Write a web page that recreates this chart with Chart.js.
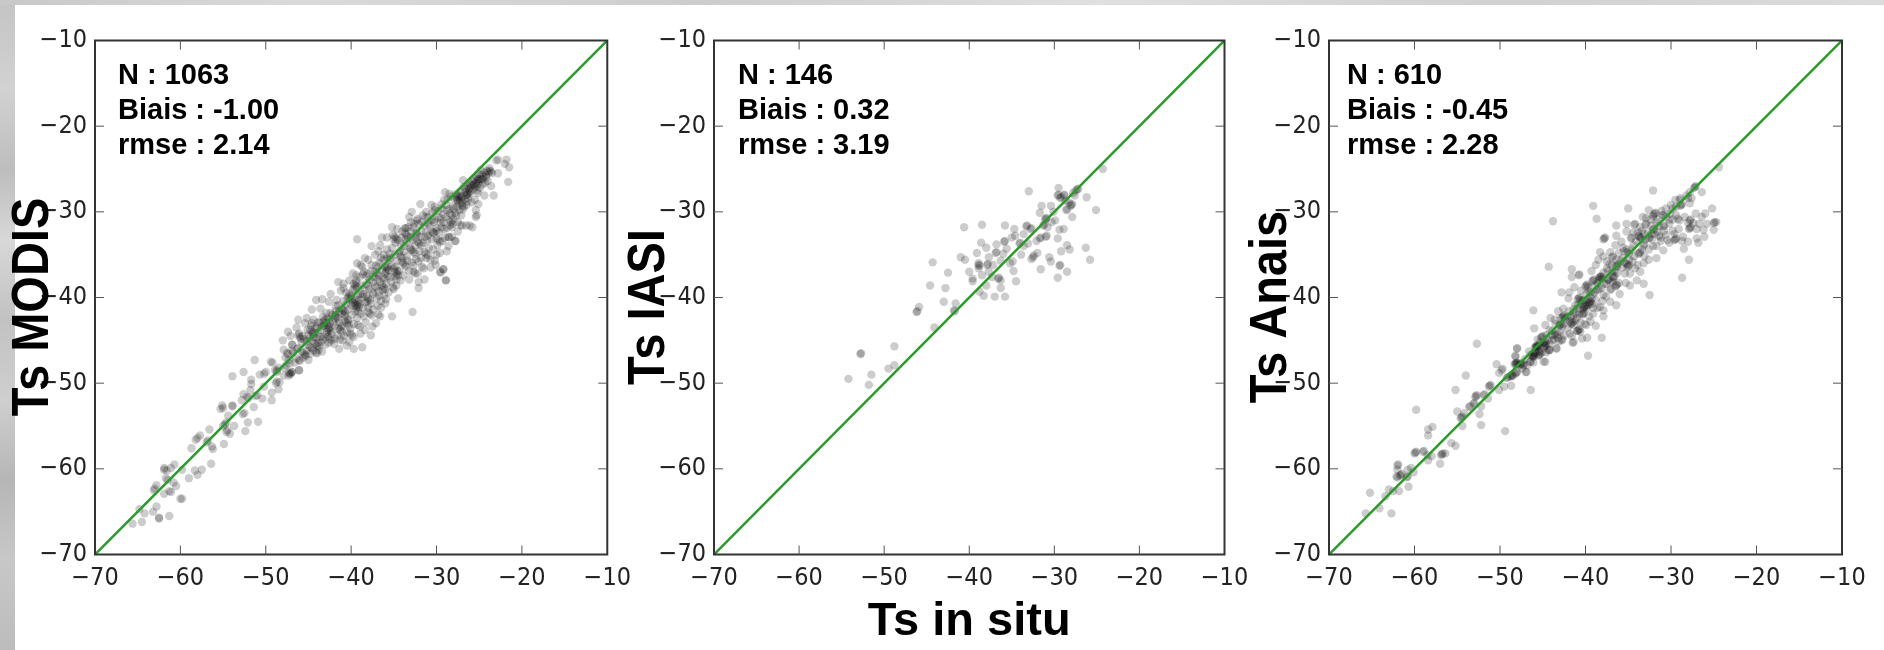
<!DOCTYPE html>
<html>
<head>
<meta charset="utf-8">
<script src="https://cdn.jsdelivr.net/npm/chart.js@4"></script>
<style>
html, body { margin: 0; padding: 0; width: 1884px; height: 650px; overflow: hidden; background: #fff; }
#left { position: absolute; left: 0; top: 0; width: 15px; height: 650px;
  background: linear-gradient(180deg, #c4c4c4 0, #d2d2d2 90px, #bdbdbd 170px, #d8d8d8 240px, #c2c2c2 320px, #cfcfcf 400px, #b6b6b6 480px, #c8c8c8 560px, #bcbcbc 650px); }
#top { position: absolute; left: 0; top: 0; width: 1884px; height: 5px;
  background: linear-gradient(90deg, #c8c8c8 0, #dadada 300px, #cdcdcd 700px, #e0e0e0 1100px, #d0d0d0 1500px, #dcdcdc 1884px); }
canvas { position: absolute; top: 0; filter: blur(0.5px); }
</style>
</head>
<body>
<div id="left"></div>
<div id="top"></div>
<canvas id="c1" width="640" height="650" style="left:0px"></canvas>
<canvas id="c2" width="640" height="650" style="left:620px"></canvas>
<canvas id="c3" width="644" height="650" style="left:1240px"></canvas>
<script>
var tickValues = [-70, -60, -50, -40, -30, -20, -10];
var oneToOne = [[-70, -70], [-10, -10]];

var modisStats = ['N : 1063', 'Biais : -1.00', 'rmse : 2.14'];
var iasiStats = ['N : 146', 'Biais : 0.32', 'rmse : 3.19'];
var anaisStats = ['N : 610', 'Biais : -0.45', 'rmse : 2.28'];

var modisPoints = [
[-65.6,-66.4],[-64.5,-66.2],[-62.5,-65.8],[-62.5,-65.7],[-61.3,-65.5],[-63.2,-65.0],[-64.2,-65.2],[-64.8,-64.7],[-62.8,-64.4],[-60.0,-63.5],[-59.8,-63.5],
[-61.9,-62.9],[-61.1,-62.7],[-61.3,-62.6],[-63.1,-62.5],[-63.0,-62.3],[-62.8,-61.9],[-60.5,-62.0],[-60.8,-61.6],[-61.5,-61.3],[-59.0,-61.1],[-58.0,-60.7],
[-58.3,-60.2],[-57.5,-60.1],[-56.4,-59.4],[-61.9,-60.1],[-61.6,-60.2],[-61.9,-59.9],[-61.1,-59.9],[-60.7,-59.5],[-59.8,-60.1],[-61.7,-61.1],[-58.7,-57.6],
[-58.0,-56.4],[-58.2,-56.6],[-57.7,-56.1],[-56.8,-56.7],[-56.9,-56.9],[-56.3,-57.4],[-56.2,-57.7],[-56.6,-55.4],[-54.9,-57.1],[-54.8,-54.8],[-55.0,-55.0],
[-54.6,-54.6],[-54.5,-55.5],[-54.6,-55.7],[-53.7,-55.0],[-54.2,-55.9],[-54.4,-53.8],[-55.1,-52.6],[-55.0,-52.9],[-55.3,-53.0],[-53.9,-52.6],[-53.9,-52.7],
[-52.5,-53.5],[-52.7,-53.6],[-51.4,-52.8],[-52.1,-54.6],[-50.9,-54.5],[-52.4,-55.6],[-50.4,-51.8],[-49.3,-52.0],[-49.3,-51.1],[-53.9,-49.2],[-52.6,-48.7],
[-51.3,-47.3],[-51.7,-49.6],[-51.7,-50.1],[-51.8,-50.8],[-52.6,-51.3],[-52.8,-52.0],[-52.2,-51.6],[-52.0,-51.7],[-51.0,-51.4],[-51.2,-51.5],[-50.7,-49.0],
[-50.0,-48.7],[-50.2,-48.9],[-50.2,-50.4],[-49.4,-47.5],[-49.2,-47.6],[-48.7,-49.8],[-48.4,-49.9],[-48.8,-50.0],[-48.7,-48.7],[-48.9,-48.5],[-48.5,-50.7],
[-47.9,-49.1],[-47.1,-48.9],[-47.3,-49.1],[-46.9,-48.7],[-46.1,-48.5],[-46.9,-45.5],[-47.9,-46.1],[-47.5,-46.5],[-47.4,-46.6],[-47.3,-47.3],[-46.1,-47.3],
[-46.0,-47.4],[-45.0,-47.3],[-45.4,-46.7],[-45.3,-46.8],[-44.0,-46.5],[-44.1,-46.4],[-47.1,-48.9],[-47.0,-48.7],[-47.3,-48.8],[-48.7,-48.5],[-48.5,-48.2],
[-46.0,-44.6],[-45.9,-44.8],[-46.2,-44.4],[-45.7,-44.5],[-44.6,-44.0],[-44.5,-44.2],[-44.8,-43.8],[-44.3,-44.1],[-42.6,-43.8],[-42.7,-43.6],[-42.4,-43.9],
[-42.8,-44.0],[-42.5,-43.5],[-41.3,-43.8],[-41.5,-43.6],[-41.1,-44.0],[-41.2,-43.5],[-44.0,-45.6],[-44.2,-45.4],[-43.8,-45.7],[-43.9,-45.3],[-44.8,-45.8],
[-44.6,-45.9],[-45.0,-45.6],[-42.5,-44.8],[-42.3,-45.0],[-42.7,-44.6],[-40.5,-43.0],[-40.7,-42.8],[-40.3,-43.2],[-40.4,-42.7],[-39.9,-44.4],[-40.1,-44.2],
[-39.7,-44.6],[-39.2,-43.2],[-39.0,-43.4],[-39.3,-40.9],[-39.5,-40.7],[-39.1,-41.1],[-39.4,-41.2],[-39.2,-40.6],[-39.6,-41.0],[-39.0,-40.8],[-40.1,-40.1],
[-40.3,-39.9],[-39.9,-40.3],[-40.0,-39.8],[-39.5,-38.6],[-39.7,-38.4],[-39.3,-38.8],[-39.6,-38.9],[-39.4,-38.3],[-38.0,-40.1],[-38.2,-39.9],[-37.8,-40.3],
[-38.1,-40.4],[-37.8,-41.9],[-38.0,-41.7],[-37.6,-42.1],[-36.6,-42.2],[-36.8,-42.0],[-36.2,-38.8],[-36.4,-38.6],[-36.0,-39.0],[-36.3,-39.1],[-34.7,-37.2],
[-34.9,-37.0],[-34.5,-37.4],[-34.8,-37.5],[-34.6,-36.9],[-35.8,-36.6],[-36.0,-36.4],[-35.6,-36.8],[-35.9,-36.9],[-37.0,-37.2],[-37.2,-37.0],[-36.8,-37.4],
[-34.9,-32.9],[-35.1,-32.7],[-34.7,-33.1],[-35.0,-33.2],[-33.5,-32.7],[-33.7,-32.5],[-33.3,-32.9],[-32.0,-33.7],[-32.2,-33.5],[-31.8,-33.9],[-31.2,-34.9],
[-31.4,-34.7],[-31.0,-35.1],[-32.7,-34.7],[-32.9,-34.5],[-32.5,-34.9],[-29.8,-33.3],[-30.0,-33.1],[-29.6,-33.5],[-28.3,-31.2],[-28.5,-31.0],[-28.1,-31.4],
[-30.4,-32.5],[-30.6,-32.3],[-33.9,-36.0],[-34.1,-35.8],[-33.7,-36.2],[-32.7,-37.0],[-32.5,-37.2],[-34.5,-40.1],[-36.0,-40.7],[-41.7,-40.3],[-42.6,-40.5],
[-43.6,-41.3],[-44.4,-42.6],[-45.4,-43.0],[-40.9,-41.5],[-41.1,-41.3],[-40.7,-41.7],[-41.7,-42.3],[-41.9,-42.1],[-41.5,-42.5],[-43.0,-43.0],[-43.2,-42.8],
[-42.8,-43.2],[-45.6,-46.5],[-45.8,-46.3],[-43.4,-46.3],[-40.5,-45.6],[-39.3,-33.2],[-44.1,-40.3],[-37.7,-44.4],[-38.7,-45.8],[-39.7,-46.0],[-41.4,-46.0],
[-35.2,-42.2],[-32.8,-41.7],[-47.1,-44.5],[-46.4,-43.5],[-46.9,-45.5],[-46.1,-48.5],[-28.9,-38.0],[-29.2,-36.7],[-29.6,-37.0],[-32.1,-38.9],[-31.4,-37.9],
[-32.1,-38.2],[-30.2,-35.7],[-27.8,-33.4],[-27.0,-31.6],[-26.1,-31.6],[-36.4,-33.0],[-36.6,-33.9],[-38.0,-35.6],[-37.2,-35.0],[-39.3,-36.0],[-40.9,-38.4],
[-40.9,-38.9],[-38.5,-37.0],[-38.7,-36.4],[-38.2,-37.5],[-37.6,-36.2],[-37.4,-38.2],[-37.0,-38.8],[-36.7,-39.8],[-36.5,-35.4],[-36.2,-35.0],[-35.8,-34.4],
[-35.5,-35.6],[-35.3,-38.2],[-35.0,-39.0],[-34.7,-38.6],[-34.4,-34.8],[-34.2,-33.8],[-33.8,-34.6],[-33.5,-35.2],[-33.2,-37.9],[-33.0,-33.0],[-32.7,-31.8],
[-32.4,-32.4],[-32.1,-35.8],[-31.7,-36.4],[-31.4,-31.6],[-31.0,-32.8],[-30.7,-36.5],[-30.3,-31.2],[-30.0,-35.0],[-29.5,-30.8],[-29.1,-32.0],[-28.8,-34.6],
[-28.5,-33.0],[-38.9,-39.6],[-38.6,-41.2],[-38.3,-42.9],[-37.5,-43.4],[-36.9,-41.0],[-36.5,-41.2],[-35.9,-40.2],[-35.7,-37.5],[-39.8,-37.2],[-40.2,-38.0],
[-40.6,-39.4],[-41.2,-39.2],[-41.8,-41.0],[-42.2,-42.0],[-42.9,-41.8],[-43.3,-42.2],[-43.9,-42.9],[-44.6,-43.0],[-45.0,-44.4],[-45.2,-45.1],[-46.3,-46.0],
[-47.6,-47.9],[-47.8,-48.2],[-43.2,-44.6],[-43.6,-43.8],[-41.9,-44.8],[-41.0,-45.0],[-40.2,-45.2],[-38.9,-44.2],[-38.4,-43.8],[-37.1,-43.0],[-22.8,-23.9],
[-23.0,-24.0],[-21.8,-23.9],[-22.0,-24.4],[-21.5,-24.8],[-21.6,-26.5],[-23.3,-28.1],[-24.4,-28.1],[-23.6,-25.3],[-23.5,-25.5],[-23.8,-25.2],[-22.8,-25.5],
[-23.6,-27.0],[-24.8,-25.1],[-25.3,-26.9],[-25.1,-26.7],[-25.5,-27.1],[-25.2,-26.4],[-25.6,-26.8],[-25.0,-26.2],[-26.3,-27.8],[-26.1,-27.6],[-26.5,-28.0],
[-26.2,-27.3],[-26.6,-27.7],[-26.0,-27.2],[-27.3,-28.6],[-27.1,-28.4],[-27.5,-28.8],[-27.2,-28.1],[-27.6,-28.3],[-27.0,-28.9],[-26.9,-26.3],[-29.0,-27.7],
[-28.5,-27.9],[-31.9,-29.1],[-32.9,-30.0],[-33.2,-30.6],[-32.3,-31.0],[-25.8,-31.8],[-26.5,-31.6],[-27.2,-31.6],[-25.3,-30.4],[-25.4,-30.6],[-25.1,-29.1],
[-25.4,-29.8],[-27.8,-33.4],[-27.5,-32.3],[-28.6,-32.9],[-29.2,-36.7],[-29.5,-37.1],[-28.9,-38.0],[-31.2,-30.0],[-30.6,-29.2],[-30.2,-29.8],[-29.8,-30.6],
[-29.4,-29.6],[-28.9,-29.2],[-28.4,-30.2],[-28.0,-29.6],[-27.7,-30.4],[-27.3,-29.8],[-26.8,-29.4],[-26.4,-28.8],[-28.2,-31.8],[-29.2,-31.2],[-30.2,-30.9],
[-31.0,-31.4],[-31.6,-30.4],[-32.2,-30.8],[-33.0,-31.2],[-33.6,-31.9],[-34.0,-32.3],[-35.2,-31.8],[-34.6,-32.0],[-35.8,-33.0],[-36.8,-34.6],[-37.6,-34.0],
[-38.4,-35.4],[-38.9,-36.2],[-39.4,-37.4],[-41.5,-38.2],[-42.4,-39.6],[-43.4,-40.2],[-44.6,-41.4],[-45.2,-42.4],[-46.2,-42.6],[-47.4,-44.0],[-48.0,-45.0]
];

// denser part of the MODIS cloud, where single dots cannot be told apart
var modisCore = [
[-46.4,-47.1],[-46.2,-45.9],[-45.8,-45.2],[-45.6,-47.0],[-45.5,-44.9],[-45.2,-46.2],[-45.1,-43.8],[-44.9,-44.8],[-44.8,-46.6],[-44.7,-43.3],[-44.5,-45.0],[-44.4,-46.2],
[-44.2,-43.6],[-44.1,-44.7],[-43.9,-44.2],[-43.8,-46.1],[-43.7,-42.9],[-43.5,-45.2],[-43.4,-43.4],[-43.3,-44.9],[-43.1,-42.6],[-43.0,-45.5],[-42.9,-44.3],[-42.8,-42.4],
[-42.6,-45.3],[-42.5,-43.0],[-42.4,-41.8],[-42.3,-44.2],[-42.1,-42.9],[-42.0,-45.4],[-41.9,-43.3],[-41.8,-41.6],[-41.6,-44.4],[-41.5,-40.9],[-41.4,-42.9],[-41.3,-44.9],
[-41.1,-41.9],[-41.0,-43.3],[-40.9,-40.4],[-40.8,-44.5],[-40.7,-42.2],[-40.6,-40.8],[-40.5,-44.1],[-40.4,-41.4],[-40.3,-42.6],[-40.2,-39.6],[-40.1,-43.6],[-40.0,-40.9],
[-39.9,-42.0],[-39.8,-39.1],[-39.7,-43.1],[-39.6,-40.2],[-39.5,-41.6],[-39.4,-38.0],[-39.3,-42.4],[-39.2,-39.7],[-39.1,-40.3],[-39.0,-37.6],[-38.9,-41.9],[-38.8,-38.6],
[-38.7,-40.0],[-38.6,-37.3],[-38.5,-42.2],[-38.4,-39.2],[-38.3,-40.6],[-38.2,-38.4],[-38.1,-37.2],[-38.0,-41.2],[-37.9,-39.0],[-37.8,-37.9],[-37.7,-40.7],[-37.6,-36.9],
[-37.5,-39.4],[-37.4,-41.4],[-37.3,-37.6],[-37.2,-38.7],[-37.1,-36.3],[-37.0,-40.1],[-36.9,-37.9],[-36.8,-39.3],[-36.7,-35.9],[-36.6,-38.2],[-36.5,-40.4],[-36.4,-36.8],
[-36.3,-37.7],[-36.2,-35.6],[-36.1,-39.7],[-36.0,-37.2],[-35.9,-38.4],[-35.8,-35.4],[-35.7,-36.4],[-35.6,-39.4],[-35.5,-34.9],[-35.4,-37.6],[-35.3,-36.3],[-35.2,-34.2],
[-35.1,-38.8],[-35.0,-36.6],[-34.9,-35.0],[-34.8,-33.6],[-34.7,-37.9],[-34.6,-35.7],[-34.5,-33.3],[-34.4,-36.9],[-34.3,-34.6],[-34.2,-38.0],[-34.1,-33.0],[-34.0,-35.4],
[-33.9,-37.4],[-33.8,-34.0],[-33.7,-31.9],[-33.6,-36.4],[-33.5,-33.6],[-33.4,-35.7],[-33.3,-31.8],[-33.2,-36.9],[-33.1,-34.2],[-33.0,-32.3],[-32.9,-35.9],[-32.8,-33.3],
[-32.7,-36.3],[-32.6,-31.4],[-32.5,-33.9],[-32.4,-35.5],[-32.3,-32.6],[-32.2,-37.2],[-32.1,-31.4],[-32.0,-34.6],[-31.9,-32.9],[-31.8,-35.4],[-31.7,-31.2],[-31.6,-33.6],
[-31.5,-36.6],[-31.4,-32.9],[-31.3,-30.6],[-31.2,-35.4],[-31.1,-33.3],[-31.0,-30.6],[-30.9,-34.2],[-30.8,-31.6],[-30.7,-35.6],[-30.6,-33.2],[-30.5,-30.1],[-30.4,-34.4],
[-30.3,-32.4],[-30.2,-29.4],[-30.1,-36.2],[-30.0,-31.9],[-29.9,-33.9],[-29.8,-29.9],[-29.7,-32.4],[-29.6,-34.8],[-29.5,-31.3],[-29.4,-29.1],[-29.3,-33.4],[-29.2,-30.3],
[-29.1,-28.6],[-29.0,-33.0],[-28.9,-30.6],[-28.8,-31.9],[-28.7,-28.5],[-28.6,-34.0],[-28.5,-29.7],[-28.4,-31.6],[-28.3,-28.2],[-28.2,-32.9],[-28.1,-29.3],[-28.0,-30.9],
[-27.9,-28.4],[-27.8,-30.1],[-27.7,-27.9],[-27.6,-29.4],[-27.5,-31.2],[-27.4,-28.2],[-27.3,-29.0],[-27.2,-27.6],[-27.1,-30.4],[-27.0,-28.2],[-26.9,-29.7],[-26.8,-27.1],
[-26.7,-28.5],[-26.6,-27.4],[-26.5,-29.2],[-26.4,-27.0],[-26.3,-28.4],[-26.2,-26.6],[-26.1,-27.9],[-26.0,-26.9],[-25.9,-28.9],[-25.8,-26.4],[-25.7,-27.4],[-25.6,-26.1],
[-25.5,-28.6],[-25.4,-26.6],[-25.3,-25.9],[-25.2,-27.5],[-25.1,-26.2],[-25.0,-25.6],[-24.9,-27.2],[-24.8,-26.2],[-24.7,-25.7],[-24.6,-26.8],[-24.5,-25.9],[-24.4,-25.4],
[-24.3,-26.6],[-24.2,-25.7],[-24.1,-25.2],[-24.0,-26.4],[-23.9,-25.4],[-23.8,-24.9],[-46.8,-46.4],[-46.6,-47.6],[-47.2,-47.7],[-47.7,-47.0],[-46.1,-44.2],[-47.0,-46.2],
[-44.4,-44.6],[-44.0,-43.4],[-43.6,-44.6],[-43.2,-43.3],[-42.6,-42.6],[-41.9,-42.4],[-41.4,-41.6],[-40.8,-42.0],[-40.4,-40.1],[-39.8,-40.6],[-39.2,-41.6],[-38.6,-39.6],
[-38.0,-38.6],[-37.4,-39.6],[-36.8,-36.4],[-36.1,-37.8],[-35.4,-35.4],[-34.8,-36.4],[-34.2,-35.2],[-33.6,-33.2],[-33.0,-34.4],[-32.4,-33.0],[-31.8,-32.2],[-31.2,-32.4],
[-30.6,-31.0],[-30.0,-32.2],[-29.4,-31.8],[-28.8,-29.8],[-28.2,-30.4],[-27.6,-28.6],[-27.0,-29.3],[-26.4,-28.0],[-25.8,-26.9],[-25.2,-27.8],[-24.6,-26.2],[-24.2,-26.0]
];

var iasiPoints = [
[-54.2,-49.5],[-52.8,-46.6],[-52.7,-46.5],[-51.5,-49],[-51.8,-50.2],[-48.8,-45.7],[-48.8,-47.9],[-49.5,-48.3],[-44.1,-43.5],[-46.2,-41.7],[-46.1,-41.6],
[-45.9,-41.1],[-44.6,-38.6],[-44.3,-35.9],[-42.8,-38.9],[-43,-40.5],[-41.6,-40.7],[-41.7,-41.6],[-41.8,-41.5],[-42.5,-37.1],[-40.6,-31.8],[-38.5,-31.5],
[-35.8,-31.6],[-33,-27.6],[-41,-35.3],[-40.5,-35.6],[-39.1,-34.8],[-38.6,-33.6],[-38,-34.2],[-37.7,-35.3],[-38.9,-36.2],[-38.9,-36],[-38.8,-36.3],
[-37.9,-36.2],[-37.8,-36.1],[-37.2,-36.2],[-38.9,-36.6],[-37.7,-37],[-39.6,-37.8],[-39.6,-38.1],[-38.5,-37.4],[-38,-38.6],[-38.8,-39.3],[-38.3,-39.8],
[-37,-39.9],[-35.8,-39.9],[-36.3,-38.9],[-36.6,-37.8],[-36.5,-37.7],[-36.3,-38],[-36.9,-34.8],[-36.8,-34.7],[-36,-34.9],[-36.8,-33.8],[-35.9,-33.5],
[-35.8,-33.4],[-35.6,-34.3],[-36.3,-35.7],[-34.9,-35.8],[-34.8,-36.9],[-34.5,-38.1],[-34.7,-32],[-34.6,-32.8],[-34.1,-33.7],[-34,-33.6],[-33.6,-34],
[-33.1,-33.7],[-33.6,-32.6],[-33.3,-31.7],[-33.2,-31.6],[-32.8,-32],[-32.7,-31.9],[-32.1,-33.4],[-31.7,-33.1],[-31.6,-33],[-31,-32.9],[-30.9,-32.8],
[-32.4,-35.1],[-32.5,-35.3],[-32.7,-35.5],[-32,-34.8],[-31.6,-36.7],[-30.6,-35.3],[-30.4,-35.8],[-29.6,-33.1],[-29.2,-34.6],[-28.5,-33.9],[-28.2,-34.4],
[-29.4,-36.3],[-29.3,-36.2],[-28.5,-37],[-29.6,-37.7],[-26.3,-34.2],[-25.8,-35.6],[-25.1,-29.8],[-26.2,-28.3],[-24.3,-25],[-29.5,-27.2],[-29.6,-28.1],
[-29.5,-28],[-28.9,-28.1],[-28.8,-28],[-29.3,-28.4],[-29.2,-28.3],[-27.3,-27.4],[-27.2,-27.3],[-27.5,-27.5],[-27.6,-28.1],[-28,-29.2],[-27.9,-29.1],
[-28.1,-29.3],[-28.6,-29.8],[-28.5,-29.7],[-27.9,-30.6],[-28.9,-32],[-29.4,-32.1],[-29.9,-31],[-30.3,-31.2],[-31,-30.8],[-30.9,-30.7],[-31.1,-30.9],
[-31.3,-31.6],[-31.2,-31.5],[-31.7,-30.1],[-31.5,-29.3],[-30.4,-29.3],[-30.1,-30],[-30.8,-31.8],[-28.7,-28.7],[-28.3,-28.9],[-27.8,-27.8],[-37.3,-37.6],
[-40,-37],[-35.2,-36],[-33.9,-35],[-35,-33]
];

var anaisPoints = [
[-65.7,-65.2],[-64.1,-64.6],[-62.7,-65.2],[-65.2,-62.8],[-63.4,-63.2],[-63,-62.4],[-62.5,-62.6],[-61.8,-62.6],[-60.7,-62.1],[-62.1,-60.9],[-62,-61],
[-62,-59.6],[-61.9,-59.5],[-62,-60.1],[-61.6,-60.7],[-61.5,-60.6],[-61.7,-60.8],[-60.9,-61],[-60.8,-60.9],[-60.8,-60.1],[-60.4,-59.9],[-60.1,-60.4],
[-59.9,-58.1],[-59.8,-58],[-60,-58.2],[-59,-58],[-58.9,-57.9],[-58.5,-58.4],[-58,-58.5],[-58.4,-59],[-57,-59.4],[-56.8,-58.3],[-56.7,-58.2],[-56.9,-58.4],
[-56.4,-58.2],[-55.7,-57],[-55.2,-57.3],[-58.4,-55.4],[-57.9,-55.1],[-58.4,-56.1],[-59.8,-53.1],[-55.2,-50.8],[-54,-49.1],[-55,-53.3],[-54.5,-54],[-54.4,-53.9],
[-54.6,-54.1],[-54.2,-53.5],[-54.4,-55],[-53.6,-52.8],[-53.5,-52.7],[-53.1,-52.4],[-53,-52.3],[-52.8,-51.5],[-52.7,-51.4],[-52.9,-51.6],[-52.2,-52.7],
[-52.4,-53.6],[-52.2,-54.9],[-51.4,-51.8],[-51.9,-51.4],[-51.8,-51.3],[-51.2,-50.3],[-51.1,-50.2],[-51.3,-50.4],[-50.1,-50.8],[-49.5,-50.4],[-48.7,-50.3],
[-49.4,-55.6],[-46.4,-50.8],[-50.4,-47.8],[-50.1,-48.8],[-49.7,-48.3],[-52.7,-45.4],[-49.2,-49.4],[-49.1,-49.3],[-48.6,-49.2],[-48.5,-49.1],[-48.1,-48.8],
[-48,-48.7],[-48.2,-48.9],[-47,-48.7],[-48.2,-47.7],[-48.1,-47.6],[-48.3,-47.8],[-47.6,-47.8],[-47.5,-47.7],[-47.7,-47.9],[-48.2,-46.8],[-48,-46],[-46.4,-47.5],
[-46.1,-46.9],[-46,-46.8],[-46.2,-47],[-45.4,-46.7],[-45.3,-46.6],[-45.5,-46.8],[-44.7,-47.5],[-44.3,-46.2],[-44.2,-46.1],[-45.7,-45.8],[-45.6,-45.7],[-45.8,-45.9],
[-45.5,-45.6],[-44.8,-45.3],[-44.7,-45.2],[-44.9,-45.4],[-43.4,-46],
[-32.1,-27.5],[-39.1,-29.3],[-43.8,-31.1],[-38.7,-30.8],[-35,-29.6],[-26.4,-27.7],[-44.3,-36.4],[-46.1,-41.5],[-41.6,-36.7],[-41.6,-37.6],[-40.8,-37.4],
[-40.7,-37.3],[-39.3,-36.9],[-42.8,-39.4],[-41.9,-39.4],[-38.3,-34.7],[-37.8,-33.1],[-37.7,-33],[-37.9,-33.2],[-36.4,-31.6],[-36.4,-32.8],[-36.5,-33.9],
[-37.1,-34.7],[-35.2,-31.4],[-34.3,-31.5],[-34.2,-31.4],[-35.2,-32.3],[-34.7,-33.1],[-34.6,-33],[-35.8,-33.5],[-33.3,-30.6],[-32.6,-29.8],[-31.9,-30.2],
[-31.8,-30.1],[-32,-30.3],[-31.1,-29.9],[-33,-31.5],[-32.9,-31.4],[-31.7,-31.2],[-32.1,-32.1],[-32,-32],[-33.6,-33.1],[-33.5,-33],[-32.6,-33.1],[-32.5,-33],
[-32.1,-34],[-33.2,-33.9],[-33.1,-33.8],[-33.7,-34.8],[-33.6,-34.7],[-33.8,-34.9],[-30.9,-34.5],[-31.7,-35.4],[-32.6,-35.6],[-33.2,-36],[-33.6,-37],[-33.2,-38.4],
[-34,-38],[-34.8,-38.6],[-32.5,-39.7],[-28.7,-37.7],[-27.9,-35.6],[-28.5,-34.3],[-29.5,-33.2],[-29.4,-33.1],[-29.6,-33.3],[-30.6,-32.7],[-30.9,-31.7],[-30.8,-31.6],
[-30.1,-30.2],[-29.5,-28.6],[-28.9,-28.4],[-28.8,-29.2],[-28.7,-29.1],[-28.9,-29.3],[-27.8,-29],[-27.2,-27.1],[-27.1,-27],[-27.3,-27.2],[-27.8,-27.7],[-28,-28.4],
[-29.4,-30.4],[-29.1,-32],[-28.6,-32.9],[-27.8,-31.9],[-27.7,-31.8],[-27.9,-32],[-27.8,-31],[-27.7,-30.9],[-28,-33.5],[-27,-33.1],[-26.8,-33.6],[-26.2,-32.1],
[-26.1,-32.9],[-26.4,-30.6],[-26,-30.2],[-25.2,-29.6],[-25.8,-31.4],[-25,-31.3],[-24.9,-31.2],[-24.7,-31.2],[-25,-32.1],[-27,-32],[-24.4,-24.8],
[-35,-36.3],[-34.9,-36.2],[-35.1,-36.4],[-35.2,-36.1],[-36.4,-36.4],[-36.3,-36.3],[-36.9,-35.3],[-36.8,-35.2],[-37.5,-35.8],[-37.5,-36.6],[-38.3,-37.6],[-38.2,-37.5],
[-38.4,-37.7],[-38.1,-37.8],[-36.7,-37.6],[-36.6,-37.5],[-36.8,-37.7],[-36.4,-38.6],[-36.3,-38.5],[-36.5,-38.7],[-37.1,-39.1],[-37,-39],[-37.9,-39.7],[-36.4,-40.9],
[-37.1,-40.5],[-37.9,-41.5],[-37.9,-42.2],[-38.8,-43.3],[-38.1,-44.7],[-39.7,-46.8],[-39.8,-44.7],[-39.5,-40.5],[-39.4,-40.4],[-39.6,-40.6],[-39.3,-40.7],[-39.7,-40.3],
[-39.5,-40.8],[-40.1,-41.1],[-40,-41],[-40.2,-41.2],[-39.9,-41.3],[-40.3,-40.9],[-40.8,-40.1],[-40.7,-40],[-40.9,-40.2],[-40.6,-40.3],[-39.9,-38.6],[-39.8,-38.5],
[-40,-38.7],[-39.7,-38.8],[-39.1,-38],[-39,-37.9],[-39.2,-38.1],[-40.3,-41.9],[-40.2,-41.8],[-40.4,-42],[-39.1,-41.9],[-41.6,-43],[-41.5,-42.9],[-41.7,-43.1],
[-41.4,-43.2],[-41.8,-42.8],[-40.8,-43.8],[-40.7,-43.7],[-40.9,-43.9],[-40.6,-44],[-42.6,-42.2],[-42.5,-42.1],[-42.7,-42.3],[-42.4,-42.4],[-43,-43.2],[-42.9,-43.1],
[-43.1,-43.3],[-42.6,-41.3],[-42,-40.1],[-41.2,-40.9],[-43.6,-42.6],[-44.7,-43.2],[-46,-43.6],[-44.2,-43.8],[-45.1,-44.6],[-45,-44.5],[-45.2,-44.7],[-43.6,-44.4],
[-43.5,-44.3],[-42.8,-45],[-42.7,-44.9],[-41.8,-44.2],[-41.5,-45.3],[-41.4,-45.2],[-40.4,-44.8],[-44.7,-45.6],[-44.6,-45.5],[-44.8,-45.7],[-45.8,-45.7],[-45.7,-45.6],
[-45.9,-45.8],[-44.2,-46.1],[-43.4,-45.9],[-44.9,-47.5],[-46.1,-46.7],[-46,-46.6],[-46.2,-46.8],[-48,-45.9],[-48.2,-46.9],[-48,-47.7],[-47.9,-47.6],[-48.1,-47.8],
[-47.3,-47.9],[-47.2,-47.8],[-46.9,-48.7],[-46.5,-47.5],[-45.5,-46.2],[-45.4,-46.3],[-48.8,-49.2],[-48.7,-49.1],[-49.8,-48.5],
[-38.8,-36.2],[-38.5,-35.6],[-37.9,-35.2],[-37.2,-36.1],[-36.1,-34.8],[-35.5,-34.6],[-35.4,-37.2],[-34.9,-34.9],[-34.5,-35.8],[-34.2,-36.6],[-33.9,-32.4],[-33.4,-32.2],
[-32.3,-31.6],[-31.4,-32.8],[-31.2,-33.4],[-30.6,-30.6],[-30.2,-33.6],[-29.8,-32.2],[-29.8,-29.6],[-29,-31],[-38.4,-39],[-38,-40.4],[-37.6,-38.4],[-38.9,-39.4],
[-38.6,-41.2],[-41.2,-41.8],[-41,-42.4],[-40.5,-39.2],[-41.3,-38.8],[-43.2,-41.6],[-44.1,-42.4],[-43.9,-45],[-43,-44],[-39.4,-42.8],[-39.9,-43.2],[-36,-39.6]
];

// denser part of the Anais cloud
var anaisCore = [
[-47.4,-48.3],[-47.1,-47.2],[-46.8,-47.9],[-46.6,-46.3],[-46.4,-46.7],[-46.1,-47.6],[-45.9,-46.4],[-45.6,-44.9],[-45.3,-45.2],[-45.1,-46.4],[-44.9,-45.9],[-44.6,-44.4],
[-44.4,-44.9],[-44.2,-45.4],[-43.9,-43.9],[-43.7,-44.9],[-43.5,-43.1],[-43.3,-44.2],[-43.1,-45.1],[-42.9,-42.4],[-42.7,-43.4],[-42.5,-44.4],[-42.3,-42.6],[-42.1,-43.6],
[-41.9,-41.6],[-41.7,-42.2],[-41.6,-44.5],[-41.4,-41.4],[-41.2,-42.7],[-41.0,-43.9],[-40.9,-40.9],[-40.7,-41.9],[-40.6,-42.9],[-40.4,-40.4],[-40.3,-41.4],[-40.1,-43.1],
[-39.9,-39.6],[-39.8,-40.9],[-39.6,-42.2],[-39.4,-39.4],[-39.3,-40.1],[-39.1,-41.2],[-38.9,-38.6],[-38.8,-40.3],[-38.6,-39.1],[-38.4,-37.9],[-38.3,-41.1],[-38.1,-38.9],
[-37.9,-37.1],[-37.8,-38.4],[-37.6,-39.9],[-37.4,-36.9],[-37.3,-37.9],[-37.1,-38.1],[-36.9,-36.2],[-36.8,-38.2],[-36.6,-36.9],[-36.4,-35.6],[-36.3,-37.1],[-36.1,-38.3],
[-35.9,-35.7],[-35.7,-36.5],[-35.6,-34.2],[-35.4,-35.9],[-35.3,-38.3],[-35.1,-34.7],[-34.9,-35.6],[-34.8,-37.2],[-34.6,-34.4],[-34.4,-32.4],[-34.3,-35.2],[-34.1,-33.4],
[-33.9,-36.2],[-33.8,-32.8],[-33.6,-31.8],[-33.4,-34.4],[-33.2,-32.6],[-33.1,-35.2],[-32.9,-30.7],[-32.7,-32.4],[-32.6,-34.4],[-32.4,-30.9],[-32.2,-33.2],[-32.1,-30.5],
[-31.9,-32.6],[-31.7,-34.0],[-31.6,-30.9],[-31.4,-31.7],[-31.2,-33.0],[-31.0,-30.4],[-30.8,-32.2],[-30.6,-29.6],[-30.4,-33.3],[-30.2,-31.4],[-30.0,-29.2],[-29.8,-30.9],
[-29.6,-32.6],[-29.4,-29.4],[-29.2,-30.8],[-29.0,-28.6],[-28.7,-33.4],[-28.4,-30.6],[-28.2,-28.1],[-28.0,-31.3],[-27.6,-28.4],[-27.4,-31.3],[-27.1,-30.2],[-26.7,-31.4],
[-44.6,-46.4],[-43.9,-44.4],[-43.2,-44.7],[-42.6,-43.1],[-42.1,-42.2],[-41.4,-42.1],[-40.9,-41.3],[-40.2,-40.3],[-39.6,-39.3],[-39.1,-39.6],[-38.6,-38.3],[-38.1,-37.6],
[-37.4,-37.9],[-36.9,-37.1],[-36.2,-36.1],[-35.6,-35.4],[-35.2,-34.4],[-34.4,-33.9],[-33.7,-32.9],[-33.0,-33.2],[-32.3,-32.6],[-31.6,-32.3],[-30.9,-30.4],[-30.2,-30.9]
];

var panelText = {
    id: 'panelText',
    afterDraw: function(chart, args, opts) {
        var ctx = chart.ctx;
        var area = chart.chartArea;
        ctx.save();

        // frame and inward ticks, as matplotlib draws them
        ctx.strokeStyle = '#333';
        ctx.lineWidth = 2;
        ctx.strokeRect(area.left, area.top, area.right - area.left, area.bottom - area.top);
        ctx.lineWidth = 1;
        ctx.strokeStyle = '#555';
        ctx.beginPath();
        tickValues.slice(1, -1).forEach(function(v) {
            var px = chart.scales.x.getPixelForValue(v);
            var py = chart.scales.y.getPixelForValue(v);
            ctx.moveTo(px, area.top);
            ctx.lineTo(px, area.top + 9);
            ctx.moveTo(px, area.bottom);
            ctx.lineTo(px, area.bottom - 9);
            ctx.moveTo(area.left, py);
            ctx.lineTo(area.left + 9, py);
            ctx.moveTo(area.right, py);
            ctx.lineTo(area.right - 9, py);
        });
        ctx.stroke();

        ctx.fillStyle = '#000';
        ctx.textBaseline = 'alphabetic';
        ctx.font = 'bold 29px "Liberation Sans"';
        opts.stats.forEach(function(line, i) {
            ctx.fillText(line, opts.statsX, 84 + i * 35);
        });

        ctx.translate(opts.titleX, 307);
        ctx.rotate(-Math.PI / 2);
        ctx.scale(1, 1.12);
        ctx.textAlign = 'center';
        ctx.textBaseline = 'middle';
        ctx.font = 'bold 47px "Liberation Sans"';
        ctx.fillText(opts.title, 0, 0);
        ctx.restore();
    }
};

function makePanel(id, points, stats, title, titleX, statsX, plotLeft, plotRight, xTitle) {
    var canvas = document.getElementById(id);
    return new Chart(canvas, {
        type: 'scatter',
        data: {
            datasets: [
                {
                    data: oneToOne.map(function(p) { return {x: p[0], y: p[1]}; }),
                    showLine: true,
                    borderColor: '#2a9a2a',
                    borderWidth: 2.5,
                    pointRadius: 0
                },
                {
                    data: points.map(function(p) { return {x: p[0], y: p[1]}; }),
                    backgroundColor: 'rgba(0,0,0,0.2)',
                    borderWidth: 0,
                    pointRadius: 4.2
                }
            ]
        },
        options: {
            responsive: false,
            animation: false,
            layout: {
                autoPadding: false,
                padding: {left: 0, top: 40.5, right: canvas.width - plotRight, bottom: 0}
            },
            plugins: {
                legend: {display: false},
                title: {display: false},
                tooltip: {enabled: false},
                panelText: {stats: stats, title: title, titleX: titleX, statsX: statsX}
            },
            scales: {
                x: {
                    min: -70, max: -10,
                    afterFit: function(s) { s.height = 95.5; },
                    afterBuildTicks: function(s) { s.ticks = tickValues.map(function(v) { return {value: v}; }); },
                    grid: {display: false, drawTicks: false},
                    border: {display: false},
                    ticks: {
                        padding: 9, maxRotation: 0, autoSkip: false, color: '#222',
                        font: {family: '"DejaVu Sans Condensed", "DejaVu Sans"', size: 25},
                        callback: function(v) { return '\u2212' + Math.abs(v); }
                    },
                    title: {
                        display: !!xTitle, text: xTitle, color: '#000',
                        font: {family: 'Liberation Sans', weight: 'bold', size: 47},
                        padding: {top: 0, bottom: 0}
                    }
                },
                y: {
                    min: -70, max: -10,
                    afterFit: function(s) { s.width = plotLeft; },
                    afterBuildTicks: function(s) { s.ticks = tickValues.map(function(v) { return {value: v}; }); },
                    grid: {display: false, drawTicks: false},
                    border: {display: false},
                    ticks: {
                        padding: 8, autoSkip: false, color: '#222',
                        font: {family: '"DejaVu Sans Condensed", "DejaVu Sans"', size: 25},
                        callback: function(v) { return '\u2212' + Math.abs(v); }
                    }
                }
            }
        },
        plugins: [panelText]
    });
}

makePanel('c1', modisPoints.concat(modisCore), modisStats, 'Ts MODIS', 33, 118, 95, 609, '');
makePanel('c2', iasiPoints, iasiStats, 'Ts IASI', 29, 118, 94, 604.5, 'Ts in situ');
makePanel('c3', anaisPoints.concat(anaisCore), anaisStats, 'Ts Anais', 31, 107, 89, 602, '');
</script>
</body>
</html>
